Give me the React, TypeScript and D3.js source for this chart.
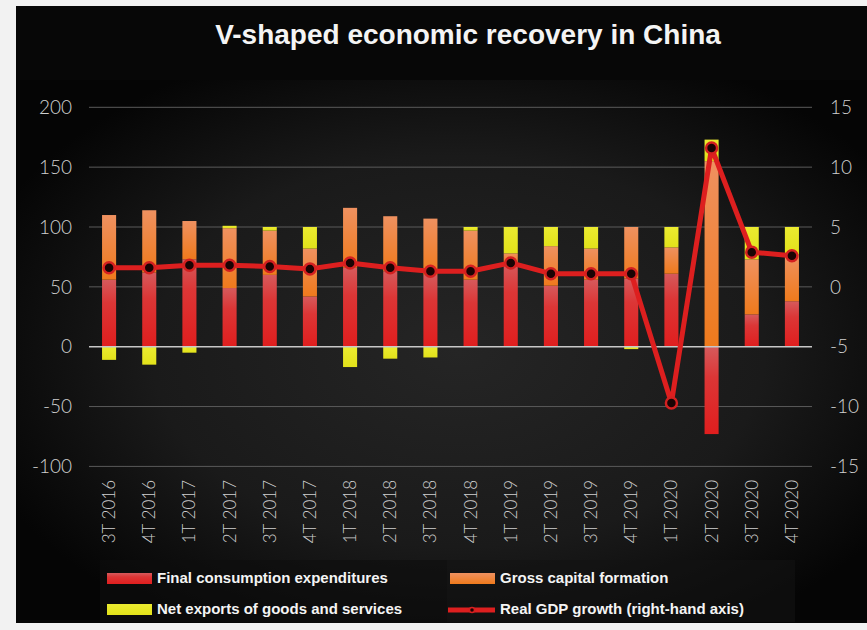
import React from "react";
import * as d3 from "d3";

const categories = ["3T 2016","4T 2016","1T 2017","2T 2017","3T 2017","4T 2017","1T 2018","2T 2018","3T 2018","4T 2018","1T 2019","2T 2019","3T 2019","4T 2019","1T 2020","2T 2020","3T 2020","4T 2020"];
const consumption = [56, 62, 73, 49, 60, 42, 66, 63, 60, 56, 70, 51, 56, 57, 61, -73, 27, 38];
const capital = [54, 52, 32, 50, 37, 40, 50, 46, 47, 41, 8, 33, 26, 43, 22, 155, 46, 39];
const netExports = [-11, -15, -5, 2, 3, 18, -17, -10, -9, 3, 22, 16, 18, -2, 17, 18, 27, 23];
const gdpGrowth = [1.6, 1.6, 1.8, 1.8, 1.7, 1.5, 2.0, 1.6, 1.3, 1.3, 2.0, 1.1, 1.1, 1.1, -9.7, 11.6, 2.9, 2.6];
const leftTicks = [200, 150, 100, 50, 0, -50, -100];
const rightTicks = [15, 10, 5, 0, -5, -10, -15];
const seriesKeys = ["consumption", "capital", "netExports"];
const legendLabels = ["Final consumption expenditures", "Gross capital formation", "Net exports of goods and services", "Real GDP growth (right-hand axis)"];
const title = "V-shaped economic recovery in China";

const W = 867, H = 630;
const plotL = 89, plotR = 812;

export default function App() {
  const x = d3.scaleBand<string>().domain(categories).range([plotL, plotR]).paddingInner(0.65).paddingOuter(0.325);
  const y = d3.scaleLinear().domain([-100, 200]).range([466.4, 107.3]);
  const yR = d3.scaleLinear().domain([-15, 15]).range([466.4, 107.3]);

  const rows = categories.map((c, i) => ({ cat: c, consumption: consumption[i], capital: capital[i], netExports: netExports[i] }));
  const stack = d3.stack<any>().keys(seriesKeys).offset(d3.stackOffsetDiverging);
  const stacked = stack(rows);
  const fills = ["url(#gRed)", "url(#gOrange)", "url(#gYellow)"];

  const line = d3.line<number>().x((_, i) => (x(categories[i]) as number) + x.bandwidth() / 2).y(d => yR(d));

  const labelFont = "Lato, 'Open Sans', sans-serif";
  const boldFont = "'Liberation Sans', Arial, sans-serif";

  return (
    <div style={{ position: "fixed", left: 0, top: 0 }}>
      <svg width={W} height={H} style={{ display: "block" }}>
        <defs>
          <radialGradient id="bgGrad" cx="52%" cy="50%" r="60%">
            <stop offset="0%" stopColor="#252525" />
            <stop offset="60%" stopColor="#1a1a1a" />
            <stop offset="100%" stopColor="#050505" />
          </radialGradient>
          <linearGradient id="gRed" x1="0" y1="0" x2="0" y2="1">
            <stop offset="0%" stopColor="#d65a5c" />
            <stop offset="35%" stopColor="#dc3636" />
            <stop offset="100%" stopColor="#e01e1e" />
          </linearGradient>
          <linearGradient id="gOrange" x1="0" y1="0" x2="0" y2="1">
            <stop offset="0%" stopColor="#ef9160" />
            <stop offset="100%" stopColor="#ef7a1c" />
          </linearGradient>
          <linearGradient id="gYellow" x1="0" y1="0" x2="0" y2="1">
            <stop offset="0%" stopColor="#ebeb30" />
            <stop offset="100%" stopColor="#e2e21a" />
          </linearGradient>
        </defs>
        <rect x={0} y={0} width={W} height={H} fill="#f2f2f2" />
        <rect x={16} y={6} width={W - 16} height={617} fill="#070707" />
        <rect x={16} y={80} width={W - 16} height={543} fill="url(#bgGrad)" />
        <rect x={100} y={560} width={347} height={62} fill="#0d0d0d" opacity={0.6} />
        <rect x={447} y={560} width={348} height={62} fill="#121212" opacity={0.6} />

        <text x={468} y={44} textAnchor="middle" fill="#f4f4f4" fontFamily={boldFont} fontWeight="bold" fontSize={28}>{title}</text>

        {leftTicks.filter(t => t !== 0).map(t => (
          <line key={"g" + t} x1={plotL} x2={plotR} y1={y(t)} y2={y(t)} stroke="#5a5a5a" strokeWidth={1} />
        ))}

        {stacked.map((s, si) => (
          <g key={s.key}>
            {s.map((d, i) => {
              const y0 = y(d[0]), y1 = y(d[1]);
              const top = Math.min(y0, y1), h = Math.abs(y0 - y1);
              if (h < 0.01) return null;
              return <rect key={i} x={x(categories[i])} y={top} width={x.bandwidth()} height={h} fill={fills[si]} />;
            })}
          </g>
        ))}

        <line x1={plotL} x2={plotR} y1={y(0)} y2={y(0)} stroke="#c8c8c8" strokeWidth={1.5} />

        <path d={line(gdpGrowth) || ""} fill="none" stroke="#dd1f1f" strokeWidth={5} strokeLinejoin="round" />
        {gdpGrowth.map((g, i) => (
          <circle key={i} cx={(x(categories[i]) as number) + x.bandwidth() / 2} cy={yR(g)} r={5.5} fill="#1a0404" stroke="#d42020" strokeWidth={2.5} />
        ))}

        {leftTicks.map(t => (
          <text key={"l" + t} x={72} y={y(t)} dy="0.35em" textAnchor="end" fill="#d0d0d0" fontFamily={labelFont} fontWeight={300} fontSize={19}>{t}</text>
        ))}
        {rightTicks.map(t => (
          <text key={"r" + t} x={830} y={yR(t)} dy="0.35em" textAnchor="start" fill="#d0d0d0" fontFamily={labelFont} fontWeight={300} fontSize={19}>{t}</text>
        ))}

        {categories.map(c => {
          const cx = (x(c) as number) + x.bandwidth() / 2;
          return (
            <text key={c} transform={`translate(${cx + 6},480) rotate(-90)`} textAnchor="end" fill="#d0d0d0" fontFamily={labelFont} fontWeight={300} fontSize={17}>{c}</text>
          );
        })}

        <rect x={107} y={573} width={45} height={11} fill="url(#gRed)" />
        <text x={157} y={583} fill="#f4f4f4" fontFamily={boldFont} fontWeight="bold" fontSize={15}>{legendLabels[0]}</text>
        <rect x={450} y={573} width={45} height={11} fill="url(#gOrange)" />
        <text x={500} y={583} fill="#f4f4f4" fontFamily={boldFont} fontWeight="bold" fontSize={15}>{legendLabels[1]}</text>
        <rect x={107} y={604} width={45} height={11} fill="url(#gYellow)" />
        <text x={157} y={614} fill="#f4f4f4" fontFamily={boldFont} fontWeight="bold" fontSize={15}>{legendLabels[2]}</text>
        <line x1={448} x2={495} y1={610} y2={610} stroke="#dd1f1f" strokeWidth={5} />
        <circle cx={472} cy={610} r={2.5} fill="#1a0404" stroke="#d42020" strokeWidth={1.5} />
        <text x={500} y={614} fill="#f4f4f4" fontFamily={boldFont} fontWeight="bold" fontSize={15}>{legendLabels[3]}</text>
      </svg>
    </div>
  );
}
